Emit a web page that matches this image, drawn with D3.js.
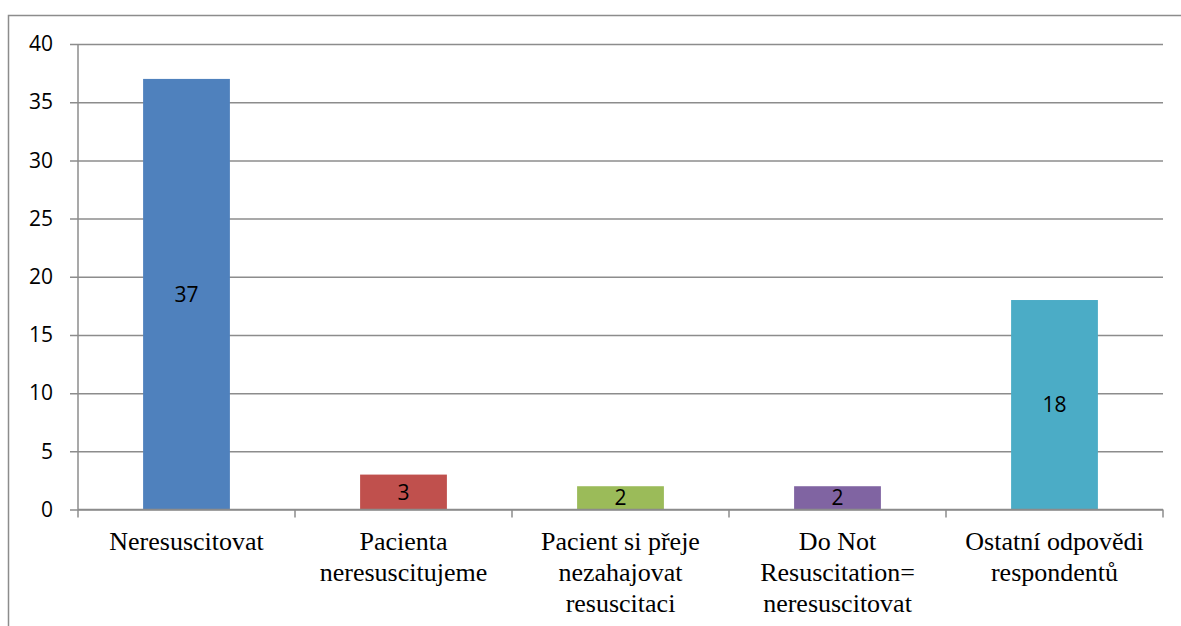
<!DOCTYPE html>
<html>
<head>
<meta charset="utf-8">
<script src="https://cdn.jsdelivr.net/npm/d3@7"></script>
<style>
  body { margin: 0; background: #fff; overflow: hidden; }
  svg { display: block; }
</style>
</head>
<body>
<svg id="mainFrame" width="1181" height="626"></svg>
<script>
const svg = d3.select('#mainFrame');
const width = +svg.attr('width');
const height = +svg.attr('height');

// data
const categories = [
    ['Neresuscitovat'],
    ['Pacienta', 'neresuscitujeme'],
    ['Pacient si přeje', 'nezahajovat', 'resuscitaci'],
    ['Do Not', 'Resuscitation=', 'neresuscitovat'],
    ['Ostatní odpovědi', 'respondentů']
];
const values = [37, 3, 2, 2, 18];
const colors = ['#4F81BD', '#C0504D', '#9BBB59', '#8064A2', '#4BACC6'];
const yTicks = [0, 5, 10, 15, 20, 25, 30, 35, 40];

const numFont = '"Open Sans", sans-serif';
const catFont = '"Liberation Serif", "Times New Roman", serif';

// outer frame: only left and top edges are visible in the picture
svg.append('path')
    .attr('d', `M8.5,${height} V15.5 H${width}`)
    .attr('fill', 'none')
    .attr('stroke', '#8c8c8c')
    .attr('stroke-width', 1.5);

const margin = { top: 44, right: 18, bottom: 116.5, left: 78 };
const innerWidth = width - margin.left - margin.right;
const innerHeight = height - margin.top - margin.bottom;

const g = svg.append('g')
    .attr('transform', `translate(${margin.left},${margin.top})`);

const xScale = d3.scaleBand()
    .domain(d3.range(values.length))
    .range([0, innerWidth])
    .paddingInner(0.6)
    .paddingOuter(0.3);

const yScale = d3.scaleLinear()
    .domain([0, 40])
    .range([innerHeight, 0]);

// y axis with gridlines
const yAxis = d3.axisLeft(yScale)
    .tickValues(yTicks)
    .tickSize(-innerWidth)
    .tickFormat(d3.format('d'));

const yAxisGroup = g.append('g').call(yAxis);
yAxisGroup.select('.domain').remove();
yAxisGroup.selectAll('.tick line')
    .attr('x1', -8)
    .attr('stroke', '#8c8c8c')
    .attr('stroke-width', 1.5);
yAxisGroup.selectAll('.tick text')
    .attr('x', -25)
    .attr('font-family', numFont)
    .attr('font-size', 21)
    .attr('fill', '#000');

// y axis line
g.append('line')
    .attr('x1', 0).attr('x2', 0)
    .attr('y1', 0).attr('y2', innerHeight)
    .attr('stroke', '#8c8c8c')
    .attr('stroke-width', 1.5);

// bars
g.selectAll('rect.bar').data(values)
    .enter().append('rect')
        .attr('class', 'bar')
        .attr('x', (d, i) => xScale(i))
        .attr('y', d => yScale(d))
        .attr('width', xScale.bandwidth())
        .attr('height', d => innerHeight - yScale(d))
        .attr('fill', (d, i) => colors[i]);

// value labels in the middle of each bar
g.selectAll('text.value').data(values)
    .enter().append('text')
        .attr('class', 'value')
        .attr('x', (d, i) => xScale(i) + xScale.bandwidth() / 2)
        .attr('y', d => (yScale(d) + innerHeight) / 2 + 7.5)
        .attr('text-anchor', 'middle')
        .attr('font-family', numFont)
        .attr('font-size', 21)
        .attr('fill', '#000')
        .text(d => d);

// x axis line with category ticks
const step = xScale.step();
const xAxisGroup = g.append('g')
    .attr('transform', `translate(0,${innerHeight})`);

xAxisGroup.append('line')
    .attr('x1', 0).attr('x2', innerWidth)
    .attr('stroke', '#8c8c8c')
    .attr('stroke-width', 1.5);

xAxisGroup.selectAll('line.tick').data(d3.range(values.length + 1))
    .enter().append('line')
        .attr('class', 'tick')
        .attr('x1', i => i * step)
        .attr('x2', i => i * step)
        .attr('y1', 0)
        .attr('y2', 8)
        .attr('stroke', '#8c8c8c')
        .attr('stroke-width', 1.5);

// category labels
const labels = xAxisGroup.selectAll('text.cat').data(categories)
    .enter().append('text')
        .attr('class', 'cat')
        .attr('text-anchor', 'middle')
        .attr('font-family', catFont)
        .attr('font-size', 26)
        .attr('fill', '#000')
        .attr('transform', (d, i) => `translate(${xScale(i) + xScale.bandwidth() / 2},40)`);

labels.selectAll('tspan').data(d => d)
    .enter().append('tspan')
        .attr('x', 0)
        .attr('y', (d, j) => j * 31)
        .text(d => d);
</script>
</body>
</html>
